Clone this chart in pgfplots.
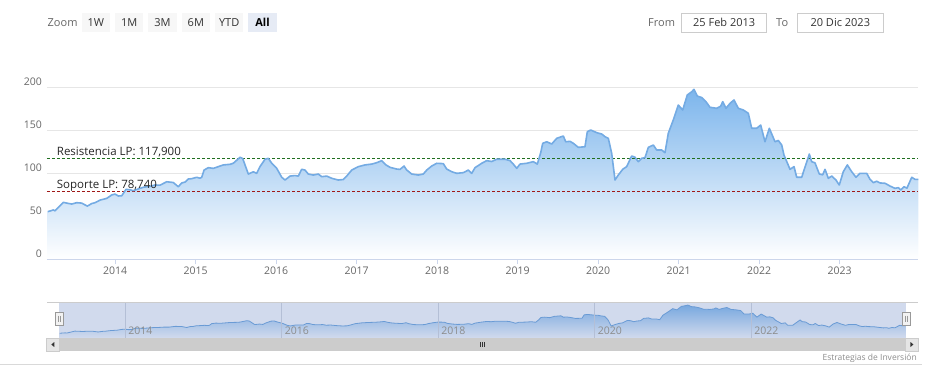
\documentclass[border=0pt]{standalone}
\usepackage{pgfplots}
\pgfplotsset{compat=1.18}
\usepackage{pgfplotstable}
\usepackage{fontspec}
\setmainfont{Open Sans}
\definecolor{hcblue}{HTML}{7CB5EC}
\definecolor{hcline}{HTML}{74ABE3}
\definecolor{axisc}{HTML}{CCD6EB}
\definecolor{gridc}{HTML}{E6E6E6}
\definecolor{labc}{HTML}{666666}
\definecolor{maskc}{HTML}{D1DAED}
\definecolor{navtop}{HTML}{78A8DF}
\definecolor{navline}{HTML}{6A9BD5}
\definecolor{navgrid}{HTML}{B4BFD6}
\definecolor{resc}{HTML}{1F6E1F}
\definecolor{supc}{HTML}{A01818}
\definecolor{btn}{HTML}{F7F7F7}
\definecolor{btnsel}{HTML}{E6EBF5}
\definecolor{txt}{HTML}{333333}
\definecolor{boxc}{HTML}{CCCCCC}

\pgfplotstableread{
x y
2013.164 55.5
2013.234 57.5
2013.255 56.5
2013.358 66.4
2013.400 65.5
2013.462 64.4
2013.524 66.0
2013.586 65.5
2013.656 62.0
2013.711 65.0
2013.752 66.0
2013.814 69.0
2013.897 71.0
2013.959 75.0
2014.000 76.0
2014.041 73.8
2014.083 74.0
2014.137 81.6
2014.186 81.0
2014.227 80.0
2014.289 82.0
2014.352 84.0
2014.435 85.0
2014.497 86.6
2014.559 86.4
2014.642 90.4
2014.724 89.5
2014.786 84.6
2014.829 89.0
2014.870 90.0
2014.911 93.6
2014.953 94.0
2015.015 95.6
2015.056 94.5
2015.077 95.6
2015.106 104.0
2015.159 106.8
2015.221 106.0
2015.283 108.0
2015.345 110.0
2015.429 110.7
2015.470 112.0
2015.553 118.9
2015.586 117.5
2015.656 99.4
2015.718 102.0
2015.760 100.2
2015.801 108.0
2015.863 116.6
2015.904 117.7
2015.947 112.0
2016.009 106.0
2016.071 95.6
2016.112 92.4
2016.174 97.0
2016.236 97.6
2016.277 97.0
2016.319 104.9
2016.360 104.0
2016.401 99.4
2016.463 98.2
2016.525 99.4
2016.568 96.3
2016.630 97.0
2016.692 94.4
2016.774 92.4
2016.836 93.0
2016.878 97.0
2016.940 104.0
2017.022 108.0
2017.106 110.0
2017.189 111.0
2017.251 112.6
2017.313 115.0
2017.366 110.0
2017.416 107.2
2017.499 105.2
2017.540 104.8
2017.590 108.7
2017.624 104.0
2017.686 99.4
2017.768 98.2
2017.830 99.4
2017.872 104.0
2017.934 108.7
2017.996 111.9
2018.078 111.5
2018.120 105.2
2018.183 102.1
2018.245 100.2
2018.327 101.0
2018.389 104.0
2018.431 100.2
2018.472 106.8
2018.555 111.9
2018.617 115.0
2018.679 114.0
2018.741 116.6
2018.782 116.6
2018.845 116.6
2018.907 115.0
2018.948 111.0
2018.990 106.0
2019.031 111.0
2019.114 111.9
2019.196 113.8
2019.246 111.0
2019.288 124.2
2019.313 135.2
2019.363 137.0
2019.425 134.4
2019.487 141.0
2019.569 143.7
2019.599 137.0
2019.652 137.5
2019.693 135.2
2019.755 130.5
2019.838 131.2
2019.867 148.7
2019.909 150.7
2019.984 147.6
2020.046 146.0
2020.087 142.9
2020.128 141.0
2020.170 123.5
2020.211 92.4
2020.252 98.2
2020.307 104.9
2020.356 108.0
2020.418 120.4
2020.459 119.0
2020.500 113.8
2020.543 117.7
2020.584 118.5
2020.625 130.5
2020.687 133.2
2020.729 127.4
2020.791 127.4
2020.832 124.2
2020.873 146.9
2020.935 162.4
2020.997 179.8
2021.052 174.0
2021.109 191.5
2021.164 195.3
2021.192 198.1
2021.233 190.3
2021.288 188.5
2021.341 183.7
2021.391 177.2
2021.474 176.0
2021.524 178.5
2021.549 183.7
2021.590 176.0
2021.640 181.8
2021.689 185.7
2021.743 176.0
2021.805 174.0
2021.867 170.2
2021.909 152.7
2021.971 152.7
2022.021 156.5
2022.074 137.0
2022.128 152.7
2022.199 137.0
2022.240 138.5
2022.282 133.2
2022.310 121.6
2022.385 104.9
2022.435 108.0
2022.468 95.6
2022.530 95.6
2022.559 104.0
2022.625 122.7
2022.654 113.8
2022.695 112.5
2022.749 99.4
2022.791 98.5
2022.820 104.9
2022.861 94.4
2022.903 97.0
2022.956 92.4
2022.997 86.6
2023.047 102.1
2023.097 110.0
2023.151 102.1
2023.205 95.6
2023.254 100.2
2023.338 100.2
2023.379 93.2
2023.420 89.3
2023.462 91.0
2023.503 89.0
2023.565 88.6
2023.627 85.4
2023.689 82.7
2023.730 83.5
2023.760 80.8
2023.801 84.6
2023.838 83.0
2023.897 95.6
2023.938 93.2
2023.979 93.2
}\pricedata

\begin{document}
\begin{tikzpicture}
\useasboundingbox (0pt,0pt) rectangle (935pt,-378pt);
% ---- range selector ----
\node[anchor=west, inner sep=0pt, text=labc, font=\fontsize{11}{13}\selectfont] at (47.5pt,-22.5pt) {Zoom};
\fill[btn] (81.7pt,-12.7pt) rectangle (110pt,-32.3pt);
\fill[btn] (115pt,-12.7pt) rectangle (143.3pt,-32.3pt);
\fill[btn] (148.3pt,-12.7pt) rectangle (176.7pt,-32.3pt);
\fill[btn] (181.7pt,-12.7pt) rectangle (210pt,-32.3pt);
\fill[btn] (215pt,-12.7pt) rectangle (243.3pt,-32.3pt);
\fill[btnsel] (248.3pt,-12.7pt) rectangle (276.7pt,-32.3pt);
\begin{scope}[every node/.style={inner sep=0pt, text=txt, font=\fontsize{11}{13}\selectfont}]
\node at (95.85pt,-22.5pt) {1W};
\node at (129.15pt,-22.5pt) {1M};
\node at (162.5pt,-22.5pt) {3M};
\node at (195.85pt,-22.5pt) {6M};
\node at (229.15pt,-22.5pt) {YTD};
\node[font=\fontsize{11}{13}\selectfont\bfseries, text=black] at (262.5pt,-22.5pt) {All};
\node[anchor=west, text=labc] at (648pt,-22.5pt) {From};
\node[anchor=west, text=labc] at (776pt,-22.5pt) {To};
\end{scope}
\draw[boxc, line width=0.8pt] (681.7pt,-13.3pt) rectangle (766.7pt,-32.3pt);
\draw[boxc, line width=0.8pt] (797.3pt,-13.3pt) rectangle (883.3pt,-32.3pt);
\node[inner sep=0pt, text=txt, font=\fontsize{11}{13}\selectfont] at (724.2pt,-22.8pt) {25 Feb 2013};
\node[inner sep=0pt, text=txt, font=\fontsize{11}{13}\selectfont] at (840.3pt,-22.8pt) {20 Dic 2023};

% ---- main chart ----
\begin{axis}[
  at={(47pt,-259.3pt)}, anchor=south west,
  scale only axis, width=871pt, height=171.6pt,
  xmin=2013.155, xmax=2023.975, ymin=0, ymax=200,
  clip=false,
  axis line style={draw=none},
  xtick={2014,2015,2016,2017,2018,2019,2020,2021,2022,2023},
  xticklabels={2014,2015,2016,2017,2018,2019,2020,2021,2022,2023},
  ytick={0,50,100,150,200},
  yticklabels={0,50,100,150,200},
  ymajorgrids, grid style={gridc, line width=1pt},
  tick align=outside, xtick pos=left, ytick pos=left,
  major tick length=5pt,
  xtick style={axisc, line width=1pt},
  ytick style={draw=none},
  xticklabel style={font=\fontsize{10.5}{12}\selectfont, text=labc, anchor=north, inner sep=0pt, yshift=-2pt},
  yticklabel style={font=\fontsize{10.5}{12}\selectfont, text=labc, anchor=base east, inner sep=0pt, yshift=2pt},
]
\addplot[draw=none, top color=hcblue, bottom color=white] table[x=x,y=y] {\pricedata} \closedcycle;
\draw[axisc, line width=1pt] (rel axis cs:0,0) -- (rel axis cs:1,0);
\addplot[resc, line width=0.9pt, dash pattern=on 3pt off 2pt] coordinates {(2013.155,117.9) (2023.975,117.9)};
\addplot[supc, line width=0.9pt, dash pattern=on 3pt off 2pt] coordinates {(2013.155,78.74) (2023.975,78.74)};
\addplot[hcline, line width=1.6pt, line join=round] table[x=x,y=y] {\pricedata};
\node[anchor=base west, inner sep=0pt, text=black!85, font=\fontsize{11.5}{13}\selectfont] at (axis cs:2013.155,117.9) [xshift=9.7pt, yshift=2.5pt] {Resistencia LP: 117,900};
\node[anchor=base west, inner sep=0pt, text=black!85, font=\fontsize{11.5}{13}\selectfont] at (axis cs:2013.155,78.74) [xshift=9.7pt, yshift=3.5pt] {Soporte LP: 78,740};
\end{axis}

% ---- navigator ----
\begin{axis}[
  at={(59pt,-337.7pt)}, anchor=south west,
  scale only axis, width=846.7pt, height=35.4pt,
  xmin=2013.155, xmax=2023.975, ymin=33, ymax=212,
  axis background/.style={fill=maskc},
  axis line style={draw=none},
  axis on top,
  ytick=\empty,
  xtick={2014,2016,2018,2020,2022},
  xticklabels={2014,2016,2018,2020,2022},
  xmajorgrids, grid style={navgrid, line width=0.8pt},
  xtick style={draw=none},
  xticklabel style={font=\fontsize{10.5}{12}\selectfont, text=black!45, anchor=base west, inner sep=0pt, xshift=3pt, yshift=3.7pt},
]
\addplot[draw=none, top color=navtop, bottom color=maskc] table[x=x,y=y] {\pricedata} \closedcycle;
\addplot[navline, line width=0.8pt] table[x=x,y=y] {\pricedata};
\end{axis}
\draw[boxc, line width=0.8pt] (47pt,-302.3pt) -- (918pt,-302.3pt);
% handles
\filldraw[fill=black!5, draw=black!40, line width=0.6pt] (55pt,-312pt) rectangle (63pt,-325.7pt);
\draw[black!40, line width=0.6pt] (58pt,-315.5pt) -- (58pt,-322pt) (60pt,-315.5pt) -- (60pt,-322pt);
\filldraw[fill=black!5, draw=black!40, line width=0.6pt] (902.7pt,-312pt) rectangle (910.7pt,-325.7pt);
\draw[black!40, line width=0.6pt] (905.7pt,-315.5pt) -- (905.7pt,-322pt) (907.7pt,-315.5pt) -- (907.7pt,-322pt);
% scrollbar
\fill[black!5] (47pt,-338pt) rectangle (918pt,-351pt);
\fill[black!20] (59pt,-338pt) rectangle (905.7pt,-351pt);
\filldraw[fill=black!10, draw=black!20, line width=0.5pt] (46.7pt,-338pt) rectangle (59pt,-351pt);
\filldraw[fill=black!10, draw=black!20, line width=0.5pt] (905.7pt,-338pt) rectangle (918pt,-351pt);
\fill[txt] (51.3pt,-344.5pt) -- (54.3pt,-342pt) -- (54.3pt,-347pt) -- cycle;
\fill[txt] (913.4pt,-344.5pt) -- (910.4pt,-342pt) -- (910.4pt,-347pt) -- cycle;
\draw[txt, line width=0.6pt] (480pt,-342pt) -- (480pt,-347pt) (482pt,-342pt) -- (482pt,-347pt) (484pt,-342pt) -- (484pt,-347pt);
% credit and separator
\node[anchor=base east, inner sep=0pt, text=black!45, font=\fontsize{8.5}{10}\selectfont] at (917pt,-360pt) {Estrategias de Inversión};
\draw[black!15, line width=0.8pt] (0pt,-364.3pt) -- (922pt,-364.3pt);
\end{tikzpicture}
\end{document}
